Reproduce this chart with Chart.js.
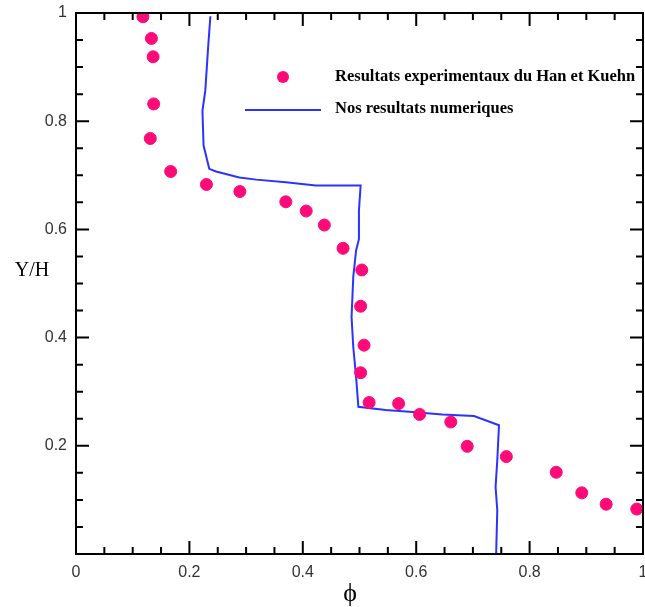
<!DOCTYPE html>
<html>
<head>
<meta charset="utf-8">
<script src="https://cdn.jsdelivr.net/npm/chart.js@4.4.1/dist/chart.umd.min.js"></script>
<style>
  body { margin: 0; background: #fff; overflow: hidden; }
  canvas { display: block; }
</style>
</head>
<body>
<canvas id="myChart" width="645" height="607"></canvas>
<script>
// experimental points (Han et Kuehn)
var expPhi = [0.118, 0.133, 0.136, 0.137, 0.131, 0.167, 0.230, 0.289, 0.370, 0.406, 0.438, 0.471, 0.504,
              0.502, 0.508, 0.502, 0.517, 0.569, 0.606, 0.661, 0.690, 0.759, 0.847, 0.892, 0.935, 0.989]
var expY   = [0.993, 0.953, 0.919, 0.832, 0.768, 0.707, 0.683, 0.670, 0.651, 0.634, 0.608, 0.565, 0.525,
              0.458, 0.386, 0.335, 0.280, 0.278, 0.258, 0.244, 0.199, 0.180, 0.151, 0.113, 0.092, 0.083]

// numerical profile
var numPhi = [0.237, 0.233, 0.228, 0.223, 0.225, 0.235, 0.247, 0.288, 0.318, 0.370, 0.423, 0.502,
              0.499, 0.499, 0.494, 0.489, 0.486, 0.489, 0.494, 0.498,
              0.546, 0.588, 0.646, 0.702, 0.746, 0.743, 0.740, 0.743, 0.741]
var numY   = [0.994, 0.936, 0.856, 0.819, 0.755, 0.712, 0.707, 0.696, 0.692, 0.687, 0.681, 0.681,
              0.635, 0.582, 0.561, 0.512, 0.438, 0.383, 0.327, 0.272,
              0.266, 0.263, 0.258, 0.255, 0.238, 0.173, 0.124, 0.081, 0.0]

var xTicks = [0, 0.2, 0.4, 0.6, 0.8, 1]
var yTicks = [0.2, 0.4, 0.6, 0.8, 1]

function pts(xs, ys){
  return xs.map(function(v, i){ return {x: v, y: ys[i]} })
}

/* frame with inward ticks, x labels + axis titles */
var framePlugin = {
  id: 'frame',
  afterDraw: function(chart){
    var c = chart.ctx, a = chart.chartArea
    var sx = chart.scales.x, sy = chart.scales.y
    c.save()
    c.strokeStyle = '#000'
    c.lineWidth = 2
    c.strokeRect(a.left, a.top, a.right - a.left, a.bottom - a.top)
    for (var i = 0; i <= 20; i++) {
      var v = i * 0.05
      var len = (i % 4 === 0) ? 13 : 7
      var px = sx.getPixelForValue(v)
      var py = sy.getPixelForValue(v)
      c.beginPath()
      c.moveTo(px, a.bottom); c.lineTo(px, a.bottom - len)
      c.moveTo(px, a.top); c.lineTo(px, a.top + len)
      c.moveTo(a.left, py); c.lineTo(a.left + len, py)
      c.moveTo(a.right, py); c.lineTo(a.right - len, py)
      c.stroke()
    }
    // x tick labels
    c.fillStyle = '#333'
    c.font = '16px "Liberation Sans"'
    c.textAlign = 'center'
    c.textBaseline = 'top'
    xTicks.forEach(function(v){
      c.fillText(String(v), sx.getPixelForValue(v), a.bottom + 11)
    })
    c.fillStyle = '#000'
    c.font = '20px "Liberation Serif"'
    c.textAlign = 'center'
    c.textBaseline = 'middle'
    c.fillText('Y/H', 32, 271)
    c.font = '26px "Liberation Serif"'
    c.fillText('\u03d5', 350, 594)
    c.restore()
  }
}

function fitY(scale){
  scale.width = 76
  scale.paddingTop = 0; scale.paddingBottom = 0
}
function fitX(scale){
  scale.height = 53
  scale.paddingLeft = 0; scale.paddingRight = 0
}

const config = {
  type: 'scatter',
  data: {
    datasets: [{
      label: 'Resultats experimentaux du Han et Kuehn',
      data: pts(expPhi, expY),
      backgroundColor: '#ff0a78',
      borderColor: '#ff0a78',
      pointStyle: 'circle',
      pointRadius: 6,
      pointHoverRadius: 6,
      showLine: false
    }, {
      label: 'Nos resultats numeriques',
      data: pts(numPhi, numY),
      borderColor: '#2b33ff',
      backgroundColor: '#2b33ff',
      borderWidth: 2,
      pointRadius: 0,
      showLine: true,
      tension: 0
    }]
  },
  options: {
    responsive: false,
    animation: false,
    devicePixelRatio: 1,
    layout: { autoPadding: false, padding: { top: 13, right: 2, left: 0, bottom: 0 } },
    plugins: {
      legend: { display: false },
      tooltip: { enabled: false }
    },
    scales: {
      x: {
        type: 'linear', min: 0, max: 1,
        afterFit: fitX,
        afterBuildTicks: function(s){ s.ticks = xTicks.map(function(v){ return {value: v} }) },
        grid: { display: false, drawTicks: false },
        border: { display: false },
        ticks: { display: false }
      },
      y: {
        type: 'linear', min: 0, max: 1,
        afterFit: fitY,
        afterBuildTicks: function(s){ s.ticks = yTicks.map(function(v){ return {value: v} }) },
        grid: { display: false, drawTicks: false },
        border: { display: false },
        ticks: {
          autoSkip: false,
          padding: 9,
          color: '#333',
          font: { family: 'Liberation Sans', size: 16 },
          callback: function(v){ return String(v) }
        }
      }
    }
  },
  plugins: [framePlugin, {
    id: 'legendBox',
    afterDraw: function(chart){
      var c = chart.ctx
      c.save()
      c.fillStyle = '#ff0a78'
      c.beginPath(); c.arc(283, 77, 6, 0, Math.PI * 2); c.fill()
      c.strokeStyle = '#2b33ff'; c.lineWidth = 2
      c.beginPath(); c.moveTo(245, 110); c.lineTo(321, 110); c.stroke()
      c.fillStyle = '#000'
      c.font = 'bold 16.5px "Liberation Serif"'
      c.textBaseline = 'middle'
      c.fillText('Resultats experimentaux du Han et Kuehn', 335, 77)
      c.fillText('Nos resultats numeriques', 335, 109)
      c.restore()
    }
  }]
}

const myChart = new Chart(document.getElementById('myChart').getContext('2d'), config)
</script>
</body>
</html>
